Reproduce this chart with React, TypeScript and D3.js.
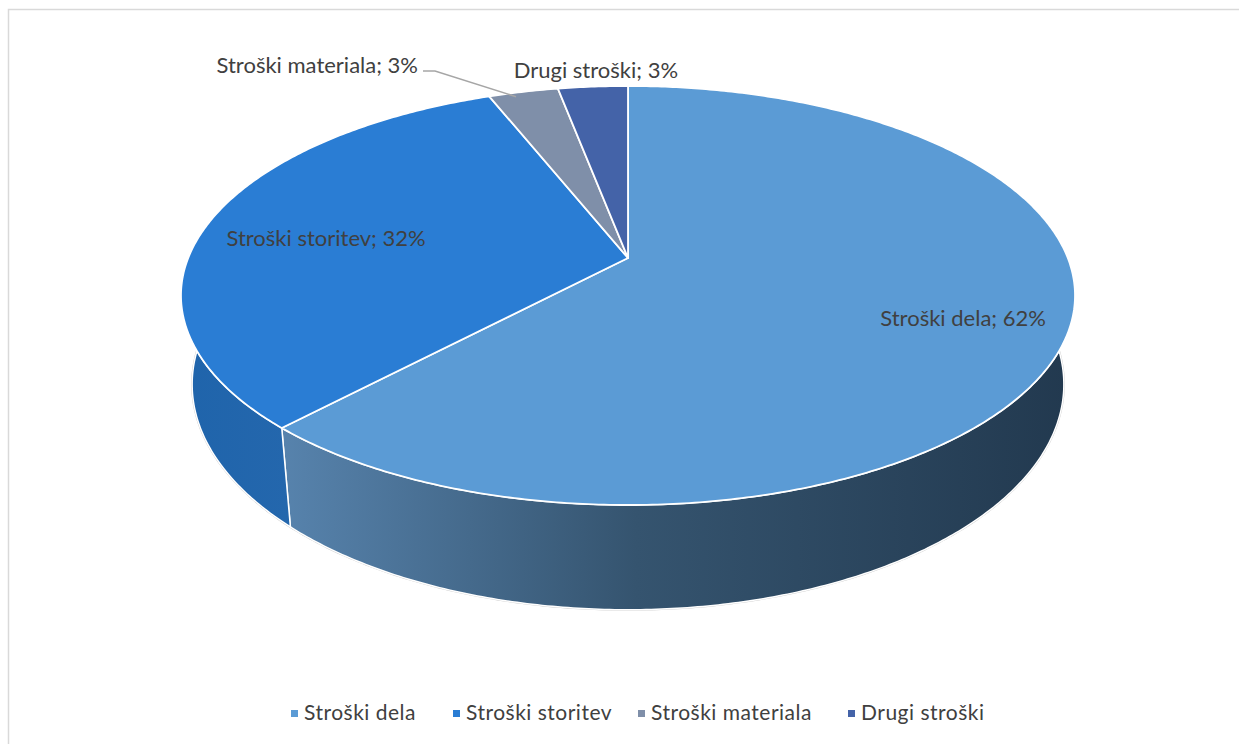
import React from "react";
import * as d3 from "d3";

const categories = ["Stroški dela", "Stroški storitev", "Stroški materiala", "Drugi stroški"];
const values = [62, 32, 3, 3];
const percentLabels = ["62%", "32%", "3%", "3%"];
const topColors = ["#5b9bd5", "#2a7dd4", "#7f8fa9", "#4463a8"];

const W = 1239;
const H = 744;
const CX = 628;
const CY = 258;
const RA = 439.8;
const RB = 202.8;
const K = 0.179;
const DEPTH = 86;
const SHRINK = 0.975;
const FONT = "Lato, 'Open Sans', sans-serif";

function proj(r: number, t: number): [number, number] {
  const w = 1 - K * r * Math.sin(t);
  return [CX + (RA * r * Math.cos(t)) / w, CY + (RB * r * Math.sin(t)) / w];
}
function projBottom(t: number): [number, number] {
  const [x, y] = proj(1, t);
  return [CX + (x - CX) * SHRINK, y + DEPTH / (1 - K * Math.sin(t))];
}

function arcPts(t0: number, t1: number, f: (t: number) => [number, number]) {
  const n = Math.max(4, Math.ceil(Math.abs(t1 - t0) / 0.01));
  const pts: [number, number][] = [];
  for (let i = 0; i <= n; i++) pts.push(f(t0 + ((t1 - t0) * i) / n));
  return pts;
}

export default function App() {
  const pie = d3.pie<number>().sort(null).value((d) => d);
  const arcs = pie(values);
  const line = d3.line();
  const toT = (a: number) => a - Math.PI / 2;

  const visLo = -0.25;
  const visHi = Math.PI + 0.25;

  const sides = arcs
    .map((a, i) => {
      const t0 = Math.max(toT(a.startAngle), visLo);
      const t1 = Math.min(toT(a.endAngle), visHi);
      if (t1 <= t0) return null;
      const top = arcPts(t0, t1, (t) => proj(1, t));
      const bot = arcPts(t1, t0, projBottom);
      return { i, d: line([...top, ...bot])! + "Z" };
    })
    .filter(Boolean) as { i: number; d: string }[];

  const tops = arcs.map((a, i) => {
    const pts = arcPts(toT(a.startAngle), toT(a.endAngle), (t) => proj(1, t));
    return { i, d: line([[CX, CY], ...pts])! + "Z" };
  });

  const rimPts = arcPts(visLo, visHi, projBottom);

  const mid = (i: number) => toT((arcs[i].startAngle + arcs[i].endAngle) / 2);
  const lab0 = proj(0.74, mid(0));
  const lab1 = proj(0.74, mid(1));
  const edge2 = proj(1, mid(2) - 0.02);
  const edge3 = proj(1, mid(3));

  const legendX = [294, 456, 641, 851];

  return (
    <svg width={W} height={H} style={{ display: "block", position: "absolute", left: 0, top: 0 }}>
      <defs>
        <linearGradient id="side0" gradientUnits="userSpaceOnUse" x1={281} y1={0} x2={1070} y2={0}>
          <stop offset="0" stopColor="#5783ad" />
          <stop offset="0.45" stopColor="#35546f" />
          <stop offset="1" stopColor="#22394f" />
        </linearGradient>
        <linearGradient id="side1" gradientUnits="userSpaceOnUse" x1={181} y1={0} x2={290} y2={0}>
          <stop offset="0" stopColor="#1f64ab" />
          <stop offset="1" stopColor="#2467ad" />
        </linearGradient>
      </defs>
      <rect x={0} y={0} width={W} height={H} fill="#ffffff" />
      <rect x={8.5} y={9.5} width={W + 20} height={H + 20} fill="#ffffff" stroke="#d9d9d9" strokeWidth={1.5} />

      <path d={line(rimPts)!} fill="none" stroke="#c8c8c8" strokeWidth={2} />
      {sides.map((s) => (
        <path key={"s" + s.i} d={s.d} fill={`url(#side${s.i})`} stroke="#ffffff" strokeWidth={1.5} strokeLinejoin="round" />
      ))}
      {tops.map((s) => (
        <path key={"t" + s.i} d={s.d} fill={topColors[s.i]} stroke="#ffffff" strokeWidth={1.8} strokeLinejoin="round" />
      ))}

      <g fontFamily={FONT} fontSize={22} fill="#404040">
        <text x={lab0[0] + 17} y={lab0[1] + 10} textAnchor="middle">
          {categories[0]}; {percentLabels[0]}
        </text>
        <text x={lab1[0] + 10} y={lab1[1] + 15} textAnchor="middle">
          {categories[1]}; {percentLabels[1]}
        </text>
        <text x={418} y={73} textAnchor="end">
          {categories[2]}; {percentLabels[2]}
        </text>
        <text x={edge3[0] + 3} y={78} textAnchor="middle">
          {categories[3]}; {percentLabels[3]}
        </text>
      </g>
      <polyline
        points={`423,71 435,71 ${edge2[0]},${edge2[1] + 4}`}
        fill="none"
        stroke="#a6a6a6"
        strokeWidth={1.5}
      />

      <g fontFamily={FONT} fontSize={21} fill="#404040" letterSpacing={0.5}>
        {categories.map((c, i) => (
          <g key={c}>
            <rect x={legendX[i] - 3} y={710} width={7} height={7} fill={topColors[i]} />
            <text x={legendX[i] + 10} y={720}>
              {c}
            </text>
          </g>
        ))}
      </g>
    </svg>
  );
}
